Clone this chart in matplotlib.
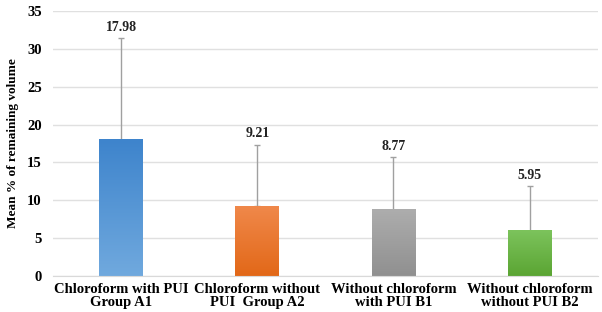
import numpy as np
import matplotlib.pyplot as plt
from matplotlib.colors import LinearSegmentedColormap

groups = ["Chloroform with PUI\nGroup A1", "Chloroform without\nPUI  Group A2",
          "Without chloroform\nwith PUI B1", "Without chloroform\nwithout PUI B2"]
means = [17.98, 9.21, 8.77, 5.95]
sds = [13.4, 8.1, 6.9, 5.9]
# colour at the top and at the bottom of each bar
tops = ["#3e84cc", "#f0884a", "#adadad", "#7cc35c"]
bottoms = ["#70a9de", "#e26818", "#909090", "#5ba533"]

plt.rcParams['font.family'] = ['Liberation Serif', 'DejaVu Serif']
plt.rcParams['font.weight'] = 'bold'

fig = plt.figure(figsize=(6.02, 3.12), dpi=100)
ax = fig.add_axes([0.088, 0.115, 0.905, 0.85])

x = np.arange(len(means))
w = 0.32
grad = np.linspace(0, 1, 100).reshape(-1, 1)
for i in range(len(means)):
    cmap = LinearSegmentedColormap.from_list("g%d" % i, [bottoms[i], tops[i]])
    ax.imshow(grad, cmap=cmap, origin='lower', aspect='auto',
              extent=[x[i] - w / 2, x[i] + w / 2, 0, means[i]], zorder=2)
    ax.errorbar(x[i], means[i], yerr=[[0], [sds[i]]], color='#a0a0a0',
                lw=1, capsize=2.5, capthick=1, zorder=1)
    ax.text(x[i], means[i] + sds[i] + 0.6, "%.2f" % means[i], ha='center',
            va='bottom', fontsize=10, fontweight='bold', color='#222222')

ax.set_xlim(-0.5, 3.5)
ax.set_ylim(0, 35)
ax.set_yticks(range(0, 36, 5))
ax.set_xticks(x)
ax.set_xticklabels(groups, fontsize=10.5, fontweight='bold', linespacing=1.0)
ax.tick_params(axis='y', length=0, labelsize=10.5, pad=8)
ax.tick_params(axis='x', length=0, pad=5)
ax.grid(axis='y', color='#e0e0e0', lw=1, zorder=0)
ax.set_axisbelow(True)
for s in ['top', 'right', 'left']:
    ax.spines[s].set_visible(False)
ax.spines['bottom'].set_color('#d9d9d9')
ax.set_ylabel("Mean % of remaining volume", fontsize=9.5, fontweight='bold',
              labelpad=6)

fig.savefig("out.png", dpi=100)
